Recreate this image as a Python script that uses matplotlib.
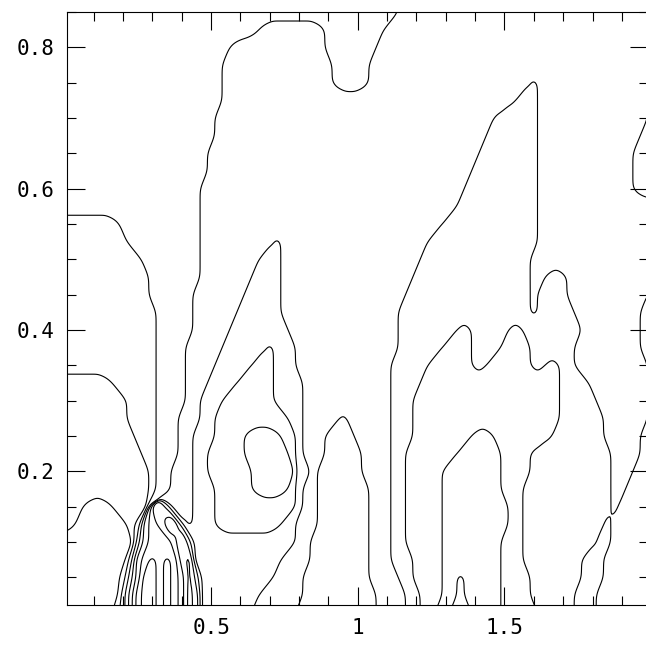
import numpy as np
import matplotlib
matplotlib.use("Agg")
import matplotlib.pyplot as plt
from matplotlib.ticker import MultipleLocator

# band index of the field on a 0.025 x 0.025 grid
# rows run from y = 0.85 (top) down to y = 0; "v:n" = value v repeated n times
X_STEP = 0.025
Y_STEP = 0.025
N_COLS = 81
FIELD_ROWS = [
    "3:46 4:35",
    "3:27 4:9 3:8 4:37",
    "3:23 4:13 3:7 4:38",
    "3:22 4:15 3:5 4:39",
    "3:22 4:15 3:5 4:22 5 4:15 5",
    "3:22 4:40 5:3 4:15 5",
    "3:21 4:38 5:6 4:15 5",
    "3:21 4:37 5:7 4:14 5:2",
    "3:20 4:37 5:8 4:13 5:3",
    "3:20 4:36 5:9 4:13 5:3",
    "3:19 4:36 5:10 4:13 5:3",
    "3:19 4:35 5:11 4:16",
    "2:8 3:11 4:33 5:13 4:16",
    "2:9 3:10 4:10 5 4:20 5:15 4:16",
    "2:11 3:8 4:8 5:3 4:19 5:15 4:17",
    "2:12 3:7 4:7 5:4 4:18 5:16 4:2 5:3 4:12",
    "2:12 3:6 4:7 5:5 4:17 5:17 4 5:4 4:11 5",
    "2:13 3:5 4:6 5:6 4:16 5:18 4 5:5 4:9 5:2",
    "2:13 3:5 4:5 5:8 4:15 5:8 6:2 5:5 6:2 5:8 4:8 5:2",
    "2:13 3:4 4:5 5:6 6 5:3 4:14 5:6 6:4 5:4 6:4 5:6 4:9 5:2",
    "2:13 3:4 4:4 5:5 6:3 5:3 4:13 5:5 6:6 5:2 6:6 5:2 6:2 5:2 4:10 5",
    "1:7 2:6 3:4 4:3 5:4 6:5 5:4 4:12 5:4 6:19 5:4 4:8 5",
    "1:9 2:4 3:4 4:2 5:3 6:7 5:4 4:12 5:3 6:20 5:5 4:7 5",
    "1:9 2:4 3:3 4:3 5:2 6:10 5:2 4:5 5 4:6 5:3 6:20 5:6 4:6 5",
    "1:10 2:3 3:3 4:2 5:3 6:4 7:5 6:2 5 4:3 5:4 4:5 5:3 6:8 7:3 6:8 5:7 4:5 5:2",
    "1:11 2:2 3:3 4:2 5:2 6:5 7:6 6 5 4:3 5:5 4:4 5:2 6:7 7:6 6:4 5:11 4:4 5:2",
    "1:12 2 3:2 4:3 5:2 6:6 7:6 5:2 4 5:6 4:4 5:2 6:5 7:8 6:4 5:11 4:3 5:3",
    "1:12 2 3:2 4:3 5:3 6:5 7:5 6 5 4:2 5:7 4:3 5:2 6:5 7:8 6:3 5:12 4:2 5:4",
    "1:3 0:4 1:5 7 8 6 4:3 5:3 6:11 5 4:2 5:7 4:3 5:2 6:5 7:9 6:2 5:12 4 5:5",
    "1:2 0:7 1 2 5 6 7 8 9 6 4 5:3 6:9 5:2 4:3 5:7 4:3 5:2 6:5 7:9 6:2 5:11 4 5:6",
    "0:10 3 5 6 6 6 7 9 7 5:14 4:2 5:8 4:3 5:2 6:5 7:8 6:3 5:10 4:2 5:6",
    "0:9 2 5 6 7 6 5 6 8 9 5:12 4:4 5:8 4:3 5:3 6:4 7:8 6:3 5:8 4:3 5:7",
    "0:8 1 3 5 7 7 6 5 6 7 9 7 5:10 4:4 5:9 4:4 5:2 6:4 7:2 8 7:5 6:4 5:7 4:3 5:7",
    "0:7 0 2 4 6 7 7 6 5 6 7 9 8 5:8 4:6 5:10 4:4 5:2 6:3 7:2 8 7:5 6:4 5:6 4:3 5:8",
    "0:7 1 2 4 6 7 7 6 5 6 7 9 8 5:7 4:6 5:11 4:4 5:2 6:2 7:2 8:3 7:4 6:5 5:5 4:3 5:8",
]
LEVELS = np.arange(0.5, 9.0, 1.0)

X_TICKS = [0.5, 1, 1.5]
X_TICK_LABELS = ["0.5", "1", "1.5"]
Y_TICKS = [0.2, 0.4, 0.6, 0.8]
Y_TICK_LABELS = ["0.2", "0.4", "0.6", "0.8"]

CAP = 0.05  # max horizontal distance kept in the per-row distance field


def decode_row(text):
    vals = []
    for tok in text.split():
        if ":" in tok:
            v, n = tok.split(":")
            vals += [float(v)] * int(n)
        else:
            vals.append(float(tok))
    vals = vals[:N_COLS]
    vals += [vals[-1]] * (N_COLS - len(vals))
    return vals


def blur(a, sigma, axis):
    r = int(3 * sigma) + 1
    k = np.exp(-0.5 * (np.arange(-r, r + 1) / sigma) ** 2)
    k /= k.sum()
    pad = [(0, 0), (0, 0)]
    pad[axis] = (r, r)
    a = np.pad(a, pad, mode="edge")
    return np.apply_along_axis(lambda v: np.convolve(v, k, mode="valid"), axis, a)


def row_distance(row, lev):
    # signed horizontal distance to the level crossing along one row
    rf = np.interp(xf, x, row) - lev
    s = np.sign(rf)
    idx = np.nonzero(np.diff(s) != 0)[0]
    if len(idx) == 0:
        return s * CAP
    xc = xf[idx] - rf[idx] * (xf[idx + 1] - xf[idx]) / (rf[idx + 1] - rf[idx])
    d = np.min(np.abs(xf[:, None] - xc[None, :]), axis=1)
    return s * np.minimum(d, CAP)


z = np.array([decode_row(r) for r in FIELD_ROWS[::-1]])  # bottom row first
ny, nx = z.shape
x = np.arange(nx) * X_STEP
y = np.arange(ny) * Y_STEP

fx, fy = 6, 12
xf = np.linspace(0, x[-1], (nx - 1) * fx + 1)
yf = np.linspace(0, y[-1], (ny - 1) * fy + 1)

fig = plt.figure(figsize=(6.46, 6.48), dpi=100)
ax = fig.add_axes([0.1033, 0.0659, 0.9002, 0.9153])

for lev in LEVELS:
    d = np.array([row_distance(row, lev + 1e-6) for row in z])
    s = np.array([np.interp(yf, y, col) for col in d.T]).T
    s = blur(s, 0.3 * fx, 1)
    s = blur(s, 0.25 * fy, 0)
    ax.contour(xf, yf, s, levels=[0.0], colors="black", linewidths=0.8)

ax.set_xlim(0.008, 1.99)
ax.set_ylim(0.0103, 0.85)
ax.set_xticks(X_TICKS, X_TICK_LABELS)
ax.set_yticks(Y_TICKS, Y_TICK_LABELS)
ax.xaxis.set_minor_locator(MultipleLocator(0.1))
ax.yaxis.set_minor_locator(MultipleLocator(0.05))
ax.tick_params(which="both", direction="in", top=True, right=True,
               width=0.8, colors="black")
ax.tick_params(which="major", length=13, labelsize=15, pad=9)
ax.tick_params(which="minor", length=6.5)
for lab in ax.get_xticklabels() + ax.get_yticklabels():
    lab.set_fontfamily("DejaVu Sans Mono")
for sp in ax.spines.values():
    sp.set_linewidth(0.8)

fig.savefig("out.png", dpi=100)
